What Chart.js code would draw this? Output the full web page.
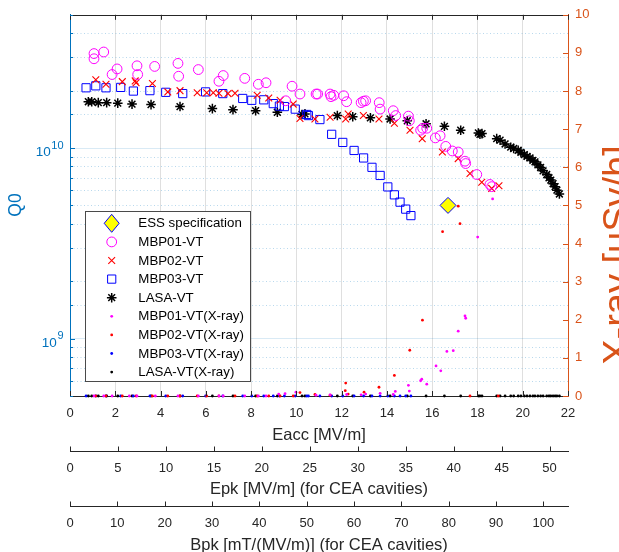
<!DOCTYPE html>
<html><head><meta charset="utf-8">
<script src="https://cdn.jsdelivr.net/npm/chart.js@4.4.0/dist/chart.umd.min.js"></script>
<style>html,body{margin:0;padding:0;background:#fff;overflow:hidden}#wrap{position:relative;width:619px;height:560px}</style>
</head><body><div id="wrap"><canvas id="c" width="619" height="560"></canvas></div>
<script>
// ---------------- data ----------------
const essEacc = [16.7];
const essQ0 = [5.0e9];

const mbp01Eacc = [1.06,1.06,1.49,1.86,2.08,2.96,2.99,3.74,4.77,4.80,5.67,6.58,6.77,7.72,8.32,8.66,9.53,9.81,10.16,10.87,10.94,11.49,11.53,11.65,12.09,12.22,12.86,12.96,13.06,13.66,13.70,14.28,14.39,14.95,14.99,15.49,15.58,15.76,16.14,16.35,16.60,16.89,17.15,17.45,17.48,17.97,18.55,18.63];
const mbp01Q0 = [3.13e10,2.94e10,3.19e10,2.43e10,2.60e10,2.70e10,2.43e10,2.68e10,2.78e10,2.38e10,2.58e10,2.24e10,2.40e10,2.32e10,2.16e10,2.20e10,1.77e10,2.11e10,1.92e10,1.92e10,1.92e10,1.92e10,1.86e10,1.89e10,1.88e10,1.75e10,1.73e10,1.76e10,1.77e10,1.73e10,1.60e10,1.57e10,1.48e10,1.47e10,1.39e10,1.24e10,1.27e10,1.27e10,1.13e10,1.16e10,1.02e10,9.65e9,9.53e9,8.53e9,8.29e9,7.26e9,6.44e9,6.27e9];

const mbp02Eacc = [1.14,1.59,2.31,2.88,2.92,3.64,4.32,4.86,5.62,6.04,6.33,6.58,6.98,7.29,8.27,8.78,9.28,9.86,10.16,10.82,11.49,12.18,12.29,12.96,13.65,14.33,15.02,15.56,16.45,17.15,17.67,18.19,18.63,18.95];
const mbp02Q0 = [2.28e10,2.16e10,2.23e10,2.25e10,2.20e10,2.18e10,1.97e10,2.00e10,1.95e10,1.95e10,1.95e10,1.94e10,1.93e10,1.94e10,1.89e10,1.83e10,1.78e10,1.70e10,1.43e10,1.42e10,1.45e10,1.42e10,1.51e10,1.48e10,1.42e10,1.35e10,1.24e10,1.12e10,9.53e9,8.80e9,7.35e9,6.61e9,6.14e9,6.34e9];

const mbp03Eacc = [0.71,1.14,1.59,2.24,2.80,3.53,4.23,4.98,5.99,6.75,7.63,8.03,8.56,8.98,9.25,9.47,9.95,10.46,10.53,11.04,11.56,12.05,12.55,12.97,13.34,13.70,14.04,14.33,14.58,14.83,15.06];
const mbp03Q0 = [2.07e10,2.12e10,2.07e10,2.08e10,1.99e10,2.00e10,1.96e10,1.93e10,1.97e10,1.93e10,1.82e10,1.78e10,1.79e10,1.71e10,1.66e10,1.65e10,1.60e10,1.50e10,1.48e10,1.41e10,1.18e10,1.07e10,9.71e9,8.87e9,7.92e9,7.18e9,6.25e9,5.68e9,5.20e9,4.78e9,4.42e9];

const lasaEacc = [0.81,0.96,1.25,1.62,2.11,2.74,3.58,4.86,6.29,7.20,8.20,9.16,10.25,10.38,11.81,12.49,13.27,14.14,14.90,15.73,16.54,17.26,18.04,18.11,18.20,18.85,19.00,19.22,19.47,19.60,19.80,19.92,20.07,20.19,20.32,20.45,20.54,20.67,20.79,20.90,21.06,21.16,21.24,21.34,21.43,21.51,21.62];
const lasaQ0 = [1.75e10,1.75e10,1.73e10,1.73e10,1.72e10,1.70e10,1.69e10,1.65e10,1.61e10,1.59e10,1.57e10,1.54e10,1.50e10,1.51e10,1.48e10,1.46e10,1.44e10,1.42e10,1.39e10,1.34e10,1.30e10,1.24e10,1.20e10,1.18e10,1.19e10,1.12e10,1.10e10,1.05e10,1.01e10,9.94e9,9.73e9,9.48e9,9.23e9,9.04e9,8.87e9,8.61e9,8.46e9,8.16e9,7.90e9,7.59e9,7.26e9,6.98e9,6.79e9,6.50e9,6.27e9,6.01e9,5.74e9];

const mbp01XrayEacc = [1.06,1.49,1.86,2.62,2.96,3.77,4.77,5.67,6.58,6.77,7.72,8.32,8.66,9.22,9.50,9.98,10.87,11.49,12.22,12.86,13.06,13.70,14.28,14.37,14.95,14.99,15.49,15.54,15.76,16.17,16.38,16.65,16.93,17.15,17.45,17.48,18.01,18.67];
const mbp01Xray = [0,0,0,0,0,0,0,0,0,0,0,0,0,0.05,0.06,0.10,0.02,0.03,0.04,0.03,0.05,0.07,0.04,0.12,0.28,0.13,0.40,0.44,0.31,0.79,0.66,1.17,1.19,1.70,2.10,2.04,4.17,5.17];

const mbp02XrayEacc = [1.14,1.59,2.31,2.92,3.64,4.32,4.86,5.62,6.04,6.58,7.29,8.27,8.78,9.28,9.86,10.16,10.82,11.49,12.16,12.18,12.29,12.99,13.65,14.33,15.01,15.57,16.46,17.15,17.23,17.67,18.92];
const mbp02Xray = [0,0,0,0,0,0,0,0,0,0,0,0,0,0,0,0.09,0.04,0.02,0.14,0.34,0.05,0.10,0.23,0.54,1.20,1.99,4.31,4.98,4.52,0,0];

const mbp03XrayEacc = [0.71,1.14,1.59,2.24,2.80,3.53,4.23,4.98,5.99,6.75,7.63,8.03,8.56,8.98,9.25,9.47,9.95,10.46,10.53,11.04,11.56,12.05,12.55,12.97,13.34,13.70,14.04,14.33,14.58,14.83,15.06];
const mbp03Xray = [0,0,0,0,0,0,0,0,0,0,0,0,0,0,0,0,0,0,0,0,0,0,0,0,0,0,0,0,0,0,0];

const lasaXrayEacc = [0.81,0.96,1.25,1.62,2.11,2.74,3.58,4.86,6.29,7.20,8.20,9.16,10.25,10.38,11.81,12.49,13.27,14.14,14.90,15.73,16.54,17.26,18.04,18.11,18.20,18.85,19.00,19.22,19.47,19.60,19.80,19.92,20.07,20.19,20.32,20.45,20.54,20.67,20.79,20.90,21.06,21.16,21.24,21.34,21.43,21.51,21.62];
const lasaXray = [0,0,0,0,0,0,0,0,0,0,0,0,0,0,0,0,0,0,0,0,0,0,0,0,0,0,0,0,0,0,0,0,0,0,0,0,0,0,0,0,0,0,0,0,0,0,0];

const legendLabels = ['ESS specification','MBP01-VT','MBP02-VT','MBP03-VT','LASA-VT','MBP01-VT(X-ray)','MBP02-VT(X-ray)','MBP03-VT(X-ray)','LASA-VT(X-ray)'];
const eaccRange = [0, 22];
const epkRange = [0, 51.92];
const bpkRange = [0, 105.2];
const q0Range = [5e8, 5e10];
const xrayRange = [0, 10];
const axisTitles = {eacc:'Eacc [MV/m]', epk:'Epk [MV/m] (for CEA cavities)', bpk:'Bpk [mT/(MV/m)] (for CEA cavities)', q0:'Q0', xray:'X-ray [uSv/h]'};

// ---------------- styling ----------------
const FONT = "'Liberation Sans', Arial, Helvetica, sans-serif";
const AX = '#262626', BLUE = '#0072BD', ORANGE = '#D95319';
Chart.defaults.font.family = FONT;

const zip = (xs, ys) => xs.map((x, i) => ({x, y: ys[i]}));

const styles = [
  {pointStyle:'rectRot', radius:8, borderColor:'#0000FF', backgroundColor:'#FFFF00', borderWidth:1},
  {pointStyle:'circle', radius:4.9, borderColor:'#FF00FF', backgroundColor:'rgba(0,0,0,0)', borderWidth:1},
  {pointStyle:'crossRot', radius:4.8, borderColor:'#FF0000', backgroundColor:'#FF0000', borderWidth:1.1},
  {pointStyle:'rect', radius:5.8, borderColor:'#0000FF', backgroundColor:'rgba(0,0,0,0)', borderWidth:1},
  {pointStyle:'star', radius:4.8, borderColor:'#000000', backgroundColor:'#000000', borderWidth:1.5},
  {pointStyle:'circle', radius:1.4, borderColor:'#FF00FF', backgroundColor:'#FF00FF', borderWidth:0},
  {pointStyle:'circle', radius:1.4, borderColor:'#FF0000', backgroundColor:'#FF0000', borderWidth:0},
  {pointStyle:'circle', radius:1.4, borderColor:'#0000FF', backgroundColor:'#0000FF', borderWidth:0},
  {pointStyle:'circle', radius:1.4, borderColor:'#000000', backgroundColor:'#000000', borderWidth:0}
];

const sets = [
  [essEacc, essQ0, 'y'], [mbp01Eacc, mbp01Q0, 'y'], [mbp02Eacc, mbp02Q0, 'y'], [mbp03Eacc, mbp03Q0, 'y'], [lasaEacc, lasaQ0, 'y'],
  [mbp01XrayEacc, mbp01Xray, 'y2'], [mbp02XrayEacc, mbp02Xray, 'y2'], [mbp03XrayEacc, mbp03Xray, 'y2'], [lasaXrayEacc, lasaXray, 'y2']
];

const datasets = sets.map((s, i) => ({
  label: legendLabels[i],
  data: zip(s[0], s[1]),
  xAxisID: 'x', yAxisID: s[2],
  showLine: false, clip: false,
  pointStyle: styles[i].pointStyle,
  pointRadius: styles[i].radius,
  pointBorderColor: styles[i].borderColor,
  pointBackgroundColor: styles[i].backgroundColor,
  pointBorderWidth: styles[i].borderWidth,
  pointHoverRadius: styles[i].radius
}));

const isMajor = v => Math.abs(Math.log10(v) - Math.round(Math.log10(v))) < 1e-9;

function legendMark(ctx, i, x, y) {
  const s = styles[i];
  ctx.save();
  ctx.strokeStyle = s.borderColor; ctx.fillStyle = s.backgroundColor; ctx.lineWidth = s.borderWidth || 1;
  ctx.beginPath();
  const r = s.radius;
  switch (s.pointStyle) {
    case 'rectRot':
      ctx.moveTo(x, y - 9); ctx.lineTo(x + 7.5, y); ctx.lineTo(x, y + 9); ctx.lineTo(x - 7.5, y); ctx.closePath();
      ctx.fill(); ctx.stroke(); break;
    case 'circle':
      ctx.arc(x, y, r, 0, Math.PI * 2);
      ctx.fill(); if (s.borderWidth > 0) ctx.stroke(); break;
    case 'crossRot': {
      const d = r * Math.SQRT1_2;
      ctx.moveTo(x - d, y - d); ctx.lineTo(x + d, y + d); ctx.moveTo(x - d, y + d); ctx.lineTo(x + d, y - d); ctx.stroke(); break; }
    case 'rect': {
      const d = r * Math.SQRT1_2;
      ctx.rect(x - d, y - d, 2 * d, 2 * d); ctx.stroke(); break; }
    case 'star': {
      const d = r * Math.SQRT1_2;
      ctx.moveTo(x - r, y); ctx.lineTo(x + r, y); ctx.moveTo(x, y - r); ctx.lineTo(x, y + r);
      ctx.moveTo(x - d, y - d); ctx.lineTo(x + d, y + d); ctx.moveTo(x - d, y + d); ctx.lineTo(x + d, y - d); ctx.stroke(); break; }
  }
  ctx.restore();
}

const decor = {
  id: 'decor',
  beforeDatasetsDraw(chart) {
    const {ctx, chartArea: a, scales} = chart;
    const y = scales.y;
    ctx.save();
    ctx.strokeStyle = 'rgba(0,114,189,0.28)'; ctx.lineWidth = 1; ctx.setLineDash([1, 2.5]);
    for (const t of y.ticks) {
      if (isMajor(t.value)) continue;
      const py = Math.round(y.getPixelForValue(t.value)) + 0.5;
      if (py <= a.top + 1 || py >= a.bottom - 1) continue;
      ctx.beginPath(); ctx.moveTo(a.left, py); ctx.lineTo(a.right, py); ctx.stroke();
    }
    ctx.restore();
  },
  afterDraw(chart) {
    const {ctx, chartArea: a, scales} = chart;
    const L = a.left, R = a.right, T = a.top, B = a.bottom;
    ctx.save();
    ctx.lineWidth = 1;
    ctx.strokeStyle = AX;
    ctx.beginPath(); ctx.moveTo(L, Math.round(T) + 0.5); ctx.lineTo(R, Math.round(T) + 0.5); ctx.stroke();
    for (const t of scales.x.ticks) {
      const px = Math.round(scales.x.getPixelForValue(t.value)) + 0.5;
      ctx.beginPath(); ctx.moveTo(px, B); ctx.lineTo(px, B - 5); ctx.moveTo(px, T); ctx.lineTo(px, T + 5); ctx.stroke();
    }
    for (const id of ['x2', 'x3']) {
      const s = scales[id];
      for (const t of s.ticks) {
        const px = Math.round(s.getPixelForValue(t.value)) + 0.5;
        ctx.beginPath(); ctx.moveTo(px, s.top); ctx.lineTo(px, s.top - 4.5); ctx.stroke();
      }
    }
    ctx.strokeStyle = BLUE;
    for (const t of scales.y.ticks) {
      const py = Math.round(scales.y.getPixelForValue(t.value)) + 0.5;
      if (py < T || py > B + 1) continue;
      const len = isMajor(t.value) ? 5 : 3;
      ctx.beginPath(); ctx.moveTo(L, py); ctx.lineTo(L + len, py); ctx.stroke();
    }
    ctx.strokeStyle = ORANGE;
    for (const t of scales.y2.ticks) {
      const py = Math.round(scales.y2.getPixelForValue(t.value)) + 0.5;
      ctx.beginPath(); ctx.moveTo(R, py); ctx.lineTo(R - 5, py); ctx.stroke();
    }
    ctx.fillStyle = BLUE; ctx.textBaseline = 'middle';
    for (const t of scales.y.ticks) {
      if (!isMajor(t.value)) continue;
      const py = scales.y.getPixelForValue(t.value);
      const e = String(Math.round(Math.log10(t.value)));
      ctx.font = '11px ' + FONT; const we = ctx.measureText(e).width;
      ctx.font = '13.5px ' + FONT; const wb = ctx.measureText('10').width;
      const xr = 63.5;
      ctx.textAlign = 'left';
      ctx.fillText('10', xr - we - wb - 0.5, py + 4.5);
      ctx.font = '11px ' + FONT;
      ctx.fillText(e, xr - we, py - 2.5);
    }
    ctx.textAlign = 'center'; ctx.textBaseline = 'alphabetic';
    ctx.save(); ctx.translate(20.8, 205); ctx.rotate(-Math.PI / 2);
    ctx.font = '17.5px ' + FONT; ctx.fillStyle = BLUE; ctx.fillText(axisTitles.q0, 0, 0); ctx.restore();
    ctx.save(); ctx.translate(630, 255); ctx.rotate(-Math.PI / 2);
    ctx.font = '38px ' + FONT; ctx.fillStyle = ORANGE; ctx.fillText(axisTitles.xray, 0, 0); ctx.restore();
    const bx = 85.5, by = 211.5, bw = 165, bh = 170;
    ctx.fillStyle = '#ffffff'; ctx.fillRect(bx, by, bw, bh);
    ctx.strokeStyle = '#4a4a4a'; ctx.lineWidth = 1; ctx.strokeRect(bx, by, bw, bh);
    ctx.font = '13.3px ' + FONT; ctx.textAlign = 'left'; ctx.textBaseline = 'middle';
    for (let i = 0; i < legendLabels.length; i++) {
      const yy = 223.3 + i * 18.6;
      legendMark(ctx, i, 111.7, yy);
      ctx.fillStyle = '#000'; ctx.fillText(legendLabels[i], 138.3, yy + 0.5);
    }
    ctx.restore();
  }
};

const tickFont = {size: 13, family: FONT};
const titleFont = {size: 16.5, family: FONT};

new Chart(document.getElementById('c'), {
  type: 'scatter',
  data: {datasets},
  options: {
    responsive: false, animation: false,
    layout: {padding: {top: 12, left: 0, right: 0, bottom: 0}},
    plugins: {legend: {display: false}, tooltip: {enabled: false}},
    scales: {
      x: {
        type: 'linear', position: 'bottom', min: eaccRange[0], max: eaccRange[1], weight: 1,
        ticks: {stepSize: 2, color: AX, font: tickFont, padding: 9.2, maxRotation: 0, includeBounds: false},
        grid: {color: '#dfdfdf', drawTicks: false, lineWidth: 1},
        border: {color: AX, width: 1},
        title: {display: true, text: axisTitles.eacc, color: AX, font: titleFont, padding: {top: 0, bottom: 6}},
        afterFit: s => { s.height = 55; }
      },
      x2: {
        type: 'linear', position: 'bottom', min: epkRange[0], max: epkRange[1], weight: 2,
        ticks: {stepSize: 5, color: AX, font: tickFont, padding: 10, maxRotation: 0, includeBounds: false},
        grid: {drawOnChartArea: false, drawTicks: false},
        border: {color: AX, width: 1},
        title: {display: true, text: axisTitles.epk, color: AX, font: titleFont, padding: {top: 0, bottom: 7}},
        afterFit: s => { s.height = 55; }
      },
      x3: {
        type: 'linear', position: 'bottom', min: bpkRange[0], max: bpkRange[1], weight: 3,
        ticks: {stepSize: 10, color: AX, font: tickFont, padding: 9.2, maxRotation: 0, includeBounds: false},
        grid: {drawOnChartArea: false, drawTicks: false},
        border: {color: AX, width: 1},
        title: {display: true, text: axisTitles.bpk, color: AX, font: titleFont, padding: {top: 0, bottom: 5}},
        afterFit: s => { s.height = 54; }
      },
      y: {
        type: 'logarithmic', position: 'left', min: q0Range[0], max: q0Range[1],
        ticks: {display: false},
        grid: {drawTicks: false, color: c => (c.tick && isMajor(c.tick.value)) ? 'rgba(0,114,189,0.15)' : 'rgba(0,0,0,0)'},
        border: {color: BLUE, width: 1},
        afterFit: s => { s.width = 70; }
      },
      y2: {
        type: 'linear', position: 'right', min: xrayRange[0], max: xrayRange[1],
        ticks: {stepSize: 1, color: ORANGE, font: tickFont, padding: 7},
        grid: {drawOnChartArea: false, drawTicks: false},
        border: {color: ORANGE, width: 1},
        afterFit: s => { s.width = 51; }
      }
    }
  },
  plugins: [decor]
});
</script></body></html>
